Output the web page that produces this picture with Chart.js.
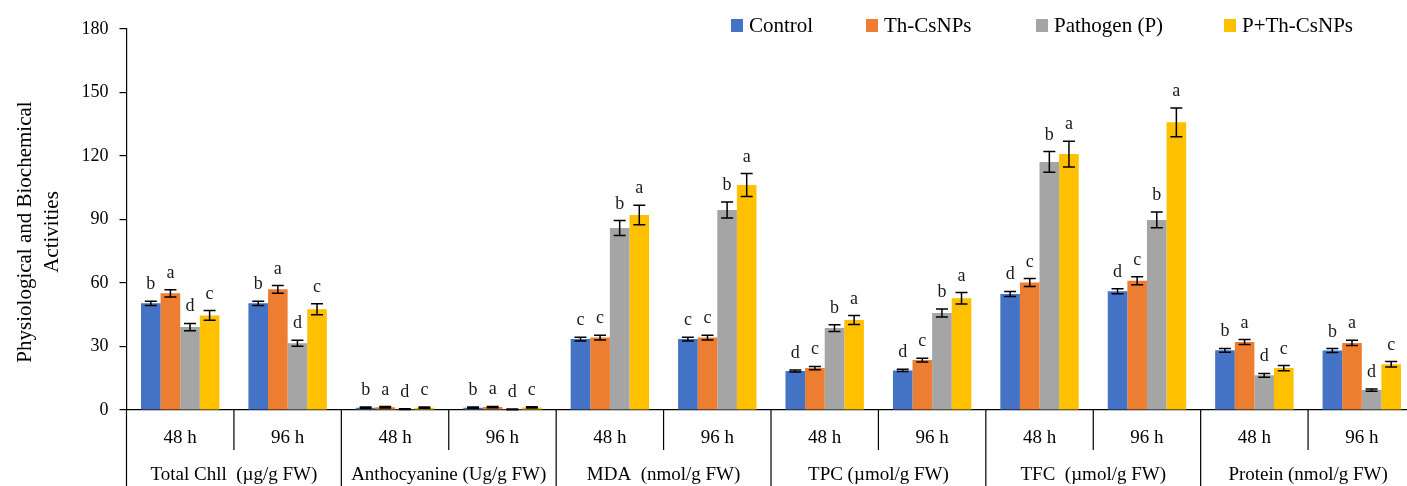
<!DOCTYPE html>
<html><head><meta charset="utf-8">
<script src="https://cdn.jsdelivr.net/npm/chart.js@4/dist/chart.umd.min.js"></script>
<style>
html,body{margin:0;padding:0;overflow:hidden;background:#fff}
#wrap{position:relative;width:1420px;height:486px}
</style></head>
<body><div id="wrap"><canvas id="c" width="1420" height="486"></canvas></div>
<script>
const categories = ['48 h','96 h','48 h','96 h','48 h','96 h','48 h','96 h','48 h','96 h','48 h','96 h'];
const groupLabels = ['Total Chll  (µg/g FW)','Anthocyanine (Ug/g FW)','MDA  (nmol/g FW)','TPC (µmol/g FW)','TFC  (µmol/g FW)','Protein (nmol/g FW)'];
const seriesNames = ['Control','Th-CsNPs','Pathogen (P)','P+Th-CsNPs'];
const seriesColors = ['#4472C4','#ED7D31','#A5A5A5','#FFC000'];
const yTicks = [0,30,60,90,120,150,180];
const yTitle = ['Physiological and Biochemical','Activities'];

const controlValues  = [50.4,50.4, 1.1,1.1, 33.5,33.5, 18.4,18.7, 54.8,56.1, 28.2,28.1];
const controlErrors  = [1.0,1.0, 0.3,0.3, 0.9,0.9, 0.5,0.5, 1.2,1.2, 0.9,0.9];
const controlLetters = ['b','b','b','b','c','c','d','d','d','d','b','b'];

const thValues  = [55.1,57.0, 1.3,1.4, 34.2,34.2, 19.8,23.6, 60.2,61.1, 32.1,31.7];
const thErrors  = [1.7,1.8, 0.3,0.3, 1.1,1.1, 0.8,0.9, 1.9,1.9, 1.2,1.2];
const thLetters = ['a','a','a','a','c','c','c','c','c','c','a','a'];

const pathValues  = [39.2,31.5, 0.4,0.3, 86.0,94.5, 38.7,45.8, 117.2,89.8, 16.4,9.4];
const pathErrors  = [1.7,1.4, 0.2,0.2, 3.5,3.8, 1.6,1.9, 4.9,3.7, 0.9,0.5];
const pathLetters = ['d','d','d','d','b','b','b','b','b','b','d','d'];

const ptValues  = [44.7,47.6, 1.1,1.2, 92.1,106.3, 42.5,52.8, 120.9,135.9, 19.8,21.6];
const ptErrors  = [2.3,2.6, 0.3,0.3, 4.6,5.4, 2.1,2.7, 6.1,6.8, 1.2,1.3];
const ptLetters = ['c','c','c','c','a','a','a','a','a','a','c','c'];

const allValues = [controlValues, thValues, pathValues, ptValues];
const allErrors = [controlErrors, thErrors, pathErrors, ptErrors];
const allLetters = [controlLetters, thLetters, pathLetters, ptLetters];

const FONT = '"Liberation Serif", "Times New Roman", serif';

const extras = {
  id: 'extras',
  afterDatasetsDraw(chart) {
    const ctx = chart.ctx;
    const y = chart.scales.y;
    ctx.save();
    ctx.strokeStyle = '#000';
    ctx.lineWidth = 1.5;
    ctx.fillStyle = '#1a1a1a';
    ctx.font = '18px ' + FONT;
    ctx.textAlign = 'center';
    ctx.textBaseline = 'alphabetic';
    chart.data.datasets.forEach((ds, di) => {
      const meta = chart.getDatasetMeta(di);
      meta.data.forEach((bar, i) => {
        const v = allValues[di][i], e = allErrors[di][i];
        const yt = y.getPixelForValue(v + e), yb = y.getPixelForValue(v - e);
        const x = bar.x;
        ctx.beginPath();
        ctx.moveTo(x, yt); ctx.lineTo(x, yb);
        ctx.moveTo(x - 6, yt); ctx.lineTo(x + 6, yt);
        ctx.moveTo(x - 6, yb); ctx.lineTo(x + 6, yb);
        ctx.stroke();
        ctx.fillText(allLetters[di][i], x, yt - 12);
      });
    });
    ctx.restore();
  },
  afterDraw(chart) {
    const ctx = chart.ctx;
    const xs = chart.scales.x;
    const area = chart.chartArea;
    const H = chart.height;
    const n = categories.length;
    const w = (xs.getPixelForValue(1) - xs.getPixelForValue(0));
    ctx.save();
    ctx.strokeStyle = '#000';
    ctx.lineWidth = 1.2;
    ctx.beginPath();
    ctx.moveTo(area.left, area.bottom); ctx.lineTo(area.left, H);
    for (let i = 1; i < n; i++) {
      const bx = xs.getPixelForValue(i) - w / 2;
      ctx.moveTo(bx, area.bottom);
      ctx.lineTo(bx, i % 2 === 0 ? H : area.bottom + 40);
    }
    ctx.stroke();
    ctx.fillStyle = '#000';
    ctx.font = '19px ' + FONT;
    ctx.textAlign = 'center';
    ctx.textBaseline = 'middle';
    groupLabels.forEach((g, k) => {
      const cx = (xs.getPixelForValue(2 * k) + xs.getPixelForValue(2 * k + 1)) / 2;
      ctx.fillText(g, cx, 475);
    });
    ctx.font = '21px ' + FONT;
    ctx.save();
    ctx.translate(25, 232);
    ctx.rotate(-Math.PI / 2);
    ctx.fillText(yTitle[0], 0, 0);
    ctx.restore();
    ctx.save();
    ctx.translate(52, 232);
    ctx.rotate(-Math.PI / 2);
    ctx.fillText(yTitle[1], 0, 0);
    ctx.restore();
    const boxX = [731, 866, 1036, 1224];
    ctx.font = '21px ' + FONT;
    ctx.textAlign = 'left';
    ctx.textBaseline = 'alphabetic';
    seriesNames.forEach((s, k) => {
      ctx.fillStyle = seriesColors[k];
      ctx.fillRect(boxX[k], 19, 12, 13);
      ctx.fillStyle = '#000';
      ctx.fillText(s, boxX[k] + 18, 32);
    });
    ctx.restore();
  }
};

new Chart(document.getElementById('c'), {
  type: 'bar',
  data: {
    labels: categories,
    datasets: seriesNames.map((s, k) => ({
      label: s,
      data: allValues[k],
      backgroundColor: seriesColors[k],
      borderWidth: 0,
      categoryPercentage: 0.73,
      barPercentage: 1.0
    }))
  },
  options: {
    responsive: false,
    devicePixelRatio: 1,
    animation: false,
    layout: { padding: { top: 29, right: 4.5, bottom: 0, left: 0 } },
    plugins: { legend: { display: false }, tooltip: { enabled: false } },
    scales: {
      x: {
        type: 'category',
        offset: true,
        grid: { display: false },
        border: { display: true, color: '#000', width: 1.2 },
        ticks: { color: '#000', font: { family: FONT, size: 19 }, padding: 9, maxRotation: 0, autoSkip: false },
        afterFit(scale) { scale.height = 76; }
      },
      y: {
        min: 0, max: 180,
        afterBuildTicks(scale) { scale.ticks = yTicks.map(v => ({ value: v })); },
        grid: { drawOnChartArea: false, drawTicks: true, tickLength: 7, color: '#000', lineWidth: 1.2 },
        border: { display: true, color: '#000', width: 1.2 },
        ticks: { color: '#000', font: { family: FONT, size: 18 }, padding: 11 },
        afterFit(scale) { scale.width = 126.5; }
      }
    }
  },
  plugins: [extras]
});
</script>
</body></html>
